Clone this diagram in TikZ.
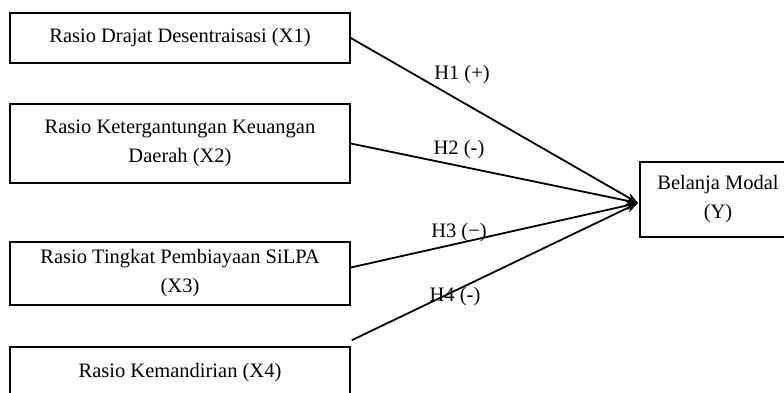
\documentclass[tikz,border=0pt]{standalone}
\usepackage{fontspec}
\setmainfont{Liberation Serif}
\usetikzlibrary{arrows.meta,calc}
\begin{document}
\begin{tikzpicture}[x=1pt,y=-1pt,
  box/.style={draw=black,line width=1.6pt,minimum width=340pt,inner sep=0pt,align=center,
    font=\fontsize{20.5}{29}\selectfont},
  lbl/.style={font=\fontsize{20.5}{24}\selectfont,inner sep=0pt},
  conn/.style={line width=1.8pt,-{Stealth[length=12pt,width=9pt]}}]
\useasboundingbox (0,0) rectangle (784,392);
\clip (0,0) rectangle (784,392);
\node[box,minimum height=50pt] (X1) at (180,38) {Rasio Drajat Desentraisasi (X1)};
\node[box,minimum height=79pt] (X2) at (180,143.5) {Rasio Ketergantungan Keuangan\\Daerah (X2)};
\node[box,minimum height=63pt] (X3) at (180,273.5) {Rasio Tingkat Pembiayaan SiLPA\\(X3)};
\node[box,minimum height=51pt] (X4) at (180,372.5) {Rasio Kemandirian (X4)};
\node[box,minimum width=156pt,minimum height=75pt] (Y) at (718,199.5) {Belanja Modal\\(Y)};
\coordinate (tip) at (638,203);
\draw[conn] (X1.east) -- (tip);
\draw[conn] (X2.east) -- (tip);
\draw[conn] ($(X3.east)+(0,-6)$) -- (tip);
\draw[conn] ($(X4.north east)+(1,-6)$) -- (tip);
\node[lbl] (H1) at (462,75) {H1 (+)};
\node[lbl] (H2) at (459,150) {H2 (-)};
\node[lbl] (H3) at (459,233) {H3 (−)};
\node[lbl] (H4) at (455,297) {H4 (-)};
\end{tikzpicture}
\end{document}
